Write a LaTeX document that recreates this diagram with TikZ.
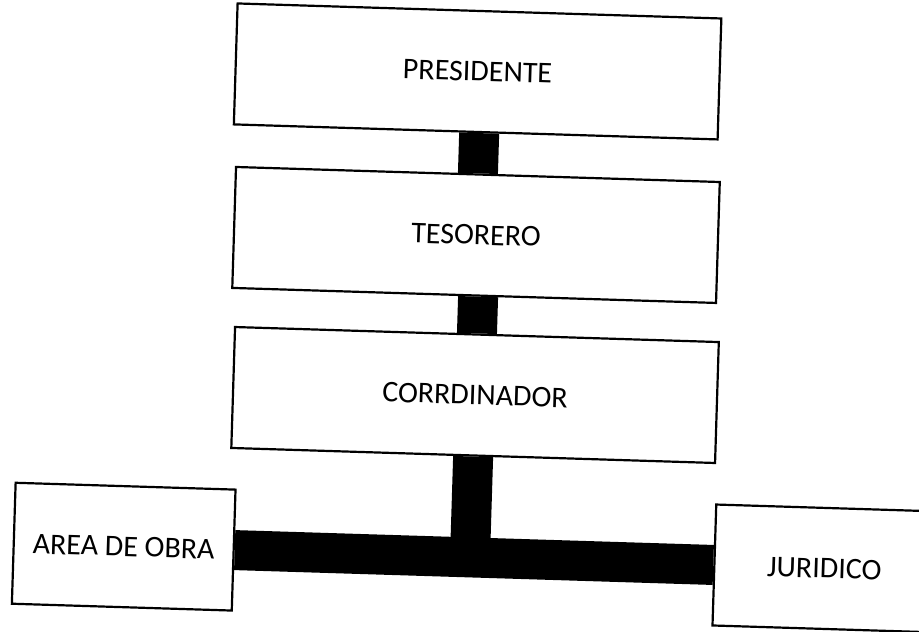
\documentclass[tikz,border=0pt]{standalone}
\usepackage{fontspec}
\setmainfont{Carlito}
\begin{document}
\begin{tikzpicture}[x=1pt,y=-1pt,
    box/.style={draw,line width=2.2pt,fill=white,inner sep=0pt,
      minimum width=484pt,minimum height=121pt,
      font=\fontsize{30}{36}\selectfont},
    smallbox/.style={box,minimum width=220pt},
    bar/.style={line width=40pt}]
  \useasboundingbox (0,0) rectangle (919,632);
  \clip (0,0) rectangle (919,632);
  \begin{scope}[rotate around={-1.78:(460,316)},transform shape]
    \node[box] (pres) at (470,71) {PRESIDENTE};
    \node[box] (tes) at (473.5,234.5) {TESORERO};
    \node[box] (corr) at (477.5,394.5) {CORRDINADOR};
    \node[smallbox] (area) at (131,557) {AREA DE OBRA};
    \node[smallbox] (jur) at (832,557) {JURIDICO};
    \draw[bar] (tes.north |- pres.south) -- (tes.north);
    \draw[bar] (corr.north |- tes.south) -- (corr.north);
    \draw[bar] (corr.south) -- (corr.south |- area.east);
    \draw[bar] (area.east) -- (jur.west);
  \end{scope}
\end{tikzpicture}
\end{document}
